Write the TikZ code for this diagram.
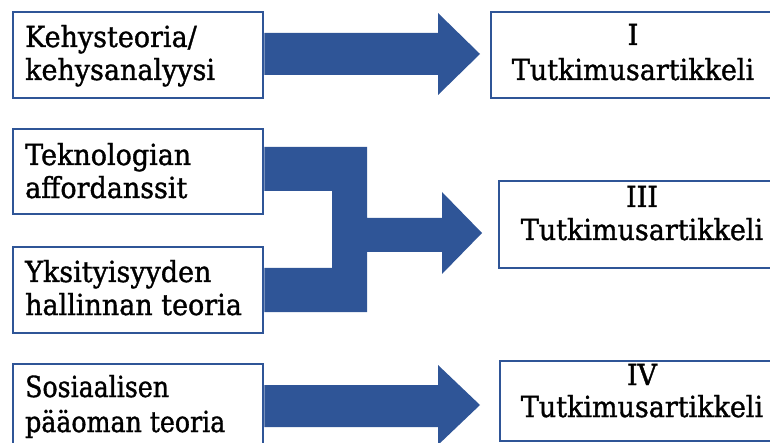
\documentclass[tikz,border=0pt]{standalone}
\usepackage{fontspec}
\setmainfont{DejaVu Serif}[FakeStretch=0.93, FakeBold=1.2]
\newfontfamily\narrowserif{DejaVu Serif}[FakeStretch=0.87, FakeBold=1.2]
\definecolor{blockblue}{HTML}{2F5597}
\tikzset{
  framebox/.style={draw=blockblue, line width=2.4pt, fill=white, rectangle,
    anchor=north west, inner sep=0pt},
  blockarrow/.style={fill=blockblue, draw=none},
  leftline/.style={anchor=base west, inner sep=0pt, font=\fontsize{29}{34}\selectfont},
  centerline/.style={anchor=base, inner sep=0pt, font=\fontsize{29}{34}\selectfont},
  narrowline/.style={leftline, font=\fontsize{29}{34}\selectfont\narrowserif}
}
\begin{document}
\begin{tikzpicture}[x=1pt, y=-1pt]
\useasboundingbox (0,0) rectangle (770,443);

% source boxes on the left
\node[framebox, minimum width=250pt, minimum height=86pt] (kehys) at (12,11) {};
\node[framebox, minimum width=250pt, minimum height=85pt] (tekno) at (12,128) {};
\node[framebox, minimum width=250pt, minimum height=86pt] (yksit) at (12,246) {};
\node[framebox, minimum width=250pt, minimum height=90pt] (sosi) at (12,363) {};

% article boxes on the right (running off the edge)
\node[framebox, minimum width=290pt, minimum height=86pt] (art1) at (490,11) {};
\node[framebox, minimum width=290pt, minimum height=87pt] (art3) at (498,180) {};
\node[framebox, minimum width=290pt, minimum height=80pt] (art4) at (499,360) {};

% labels
\node[leftline] (kehysA) at (25,47) {Kehysteoria/};
\node[leftline] (kehysB) at (25,80) {kehysanalyysi};
\node[leftline] (teknoA) at (25,165) {Teknologian};
\node[leftline] (teknoB) at (25,198) {affordanssit};
\node[leftline] (yksitA) at (25,282) {Yksityisyyden};
\node[leftline] (yksitB) at (25,315) {hallinnan teoria};
\node[narrowline] (sosiA) at (25,397) {Sosiaalisen};
\node[narrowline] (sosiB) at (25,432) {pääoman teoria};

\node[centerline] (art1A) at (633,45) {I};
\node[centerline] (art1B) at (633,80) {Tutkimusartikkeli};
\node[centerline] (art3A) at (642,207) {III};
\node[centerline] (art3B) at (642,240) {Tutkimusartikkeli};
\node[centerline] (art4A) at (642,385) {IV};
\node[centerline] (art4B) at (642,417) {Tutkimusartikkeli};

% arrow tips
\coordinate (tip1) at (480,54);
\coordinate (tip3) at (482,233);
\coordinate (tip4) at (480,405);

% block arrow: frame theory -> article I
\fill[blockarrow] (kehys.east |- 0,33) -- (438,33) -- (438,13) -- (tip1)
  -- (438,95) -- (438,75) -- (kehys.east |- 0,75) -- cycle;

% merging block arrow: affordances + privacy theory -> article III
\fill[blockarrow] (tekno.east |- 0,147) -- (367,147) -- (367,218) -- (442,218)
  -- (442,192) -- (tip3) -- (442,274) -- (442,252) -- (367,252) -- (367,312)
  -- (yksit.east |- 0,312) -- (yksit.east |- 0,268) -- (332,268) -- (332,191)
  -- (tekno.east |- 0,191) -- cycle;

% block arrow: social capital theory -> article IV
\fill[blockarrow] (sosi.east |- 0,385) -- (438,385) -- (438,365) -- (tip4)
  -- (438,445) -- (438,427) -- (sosi.east |- 0,427) -- cycle;
\end{tikzpicture}
\end{document}
